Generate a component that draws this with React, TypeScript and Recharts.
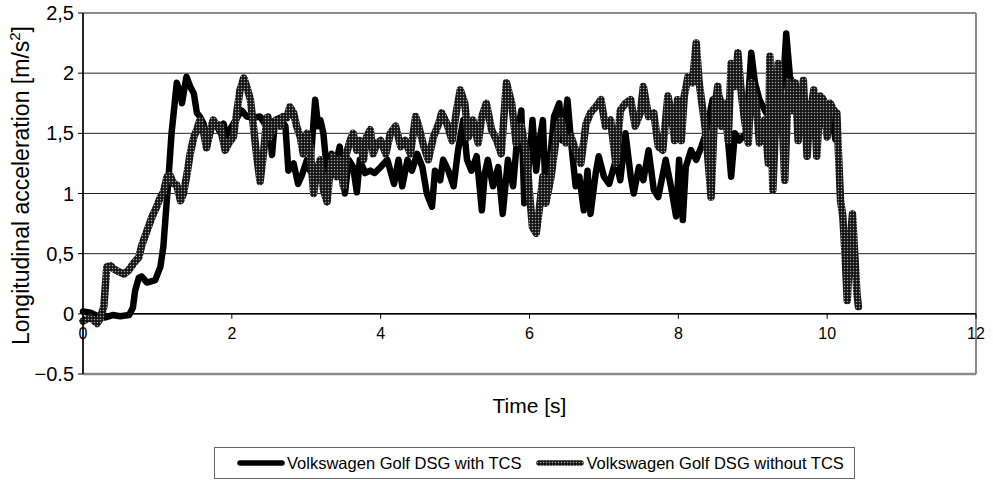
import React from 'react';
import {
  ComposedChart,
  Line,
  XAxis,
  YAxis,
  CartesianGrid,
  ReferenceLine,
  Scatter,
  Legend,
} from 'recharts';

const FONT = '"Liberation Sans", Arial, Helvetica, sans-serif';

const seriesNames = ['Volkswagen Golf DSG with TCS', 'Volkswagen Golf DSG without TCS'];
const xTicks = [0, 2, 4, 6, 8, 10, 12];
const yTicks = [-0.5, 0, 0.5, 1, 1.5, 2, 2.5];

// Volkswagen Golf DSG with TCS
const tWith = [
  0, 0.1, 0.2, 0.3, 0.4, 0.5, 0.62, 0.67, 0.7, 0.75, 0.79, 0.86, 0.97, 1.04, 1.08, 1.15, 1.19, 1.26, 1.31, 1.33,
  1.39, 1.44, 1.49, 1.53, 1.57, 1.62, 1.66, 1.71, 1.75, 1.8, 1.84, 1.89, 1.93, 2.0, 2.07, 2.13, 2.2, 2.29, 2.38, 2.45,
  2.49, 2.54, 2.58, 2.65, 2.72, 2.76, 2.83, 2.89, 2.94, 3.01, 3.05, 3.12, 3.16, 3.19, 3.23, 3.28, 3.34, 3.41, 3.45, 3.52,
  3.57, 3.63, 3.68, 3.72, 3.79, 3.86, 3.92, 4.0, 4.09, 4.18, 4.24, 4.29, 4.36, 4.42, 4.49, 4.56, 4.62, 4.69, 4.73, 4.8,
  4.84, 4.91, 4.98, 5.04, 5.11, 5.16, 5.22, 5.29, 5.36, 5.4, 5.44, 5.51, 5.58, 5.64, 5.71, 5.78, 5.84, 5.89, 5.93, 6.0,
  6.04, 6.09, 6.13, 6.18, 6.22, 6.27, 6.33, 6.4, 6.44, 6.51, 6.56, 6.62, 6.67, 6.73, 6.78, 6.82, 6.89, 6.93, 7.0, 7.07,
  7.16, 7.22, 7.29, 7.36, 7.4, 7.47, 7.53, 7.6, 7.67, 7.73, 7.83, 7.9, 7.97, 8.01, 8.06, 8.1, 8.17, 8.24, 8.31, 8.37,
  8.46, 8.55, 8.64, 8.71, 8.76, 8.82, 8.91, 8.98, 9.03, 9.09, 9.18, 9.27, 9.34, 9.41, 9.45, 9.5, 9.55, 9.59, 9.66, 9.73,
  9.82, 9.91, 10.0, 10.06, 10.11,
];
const aWith = [
  0.02, 0.01, -0.02, -0.03, -0.01, -0.02, -0.01, 0.05, 0.19, 0.3, 0.31, 0.26, 0.28, 0.39, 0.56, 1.14, 1.5, 1.92, 1.83, 1.75,
  1.97, 1.89, 1.83, 1.67, 1.64, 1.58, 1.38, 1.5, 1.61, 1.56, 1.51, 1.58, 1.47, 1.56, 1.63, 1.69, 1.64, 1.63, 1.64, 1.57,
  1.64, 1.32, 1.61, 1.63, 1.56, 1.19, 1.25, 1.08, 1.15, 1.28, 1.19, 1.78, 1.56, 1.61, 1.5, 1.17, 1.33, 1.28, 1.39, 1.0,
  1.28, 1.22, 1.01, 1.28, 1.17, 1.19, 1.17, 1.22, 1.28, 1.08, 1.28, 1.06, 1.28, 1.19, 1.33, 1.22, 1.0, 0.89, 1.19, 1.11,
  1.28, 1.19, 1.06, 1.36, 1.61, 1.28, 1.19, 1.31, 0.86, 1.17, 1.28, 1.06, 1.22, 0.83, 1.28, 1.06, 1.5, 1.69, 0.92, 1.28,
  1.61, 1.19, 1.42, 1.61, 0.94, 1.25, 1.64, 1.75, 1.44, 1.78, 1.42, 1.06, 1.14, 0.86, 1.19, 0.83, 1.17, 1.31, 1.14, 1.08,
  1.28, 1.11, 1.5, 1.14, 1.0, 1.22, 1.11, 1.36, 1.03, 0.97, 1.28, 1.06, 0.81, 1.28, 0.78, 1.22, 1.36, 1.28, 1.39, 1.5,
  1.78, 1.81, 1.64, 1.14, 1.5, 1.44, 1.5, 2.17, 1.92, 1.78, 1.67, 1.83, 1.78, 1.92, 2.33, 1.97, 1.89, 1.78, 1.83, 1.72,
  1.78, 1.69, 1.72, 1.67, 1.45,
];

// Volkswagen Golf DSG without TCS
const tWithout = [
  0, 0.1, 0.19, 0.23, 0.28, 0.32, 0.37, 0.41, 0.48, 0.55, 0.61, 0.68, 0.75, 0.79, 0.86, 0.93, 0.99, 1.04, 1.08, 1.13,
  1.17, 1.22, 1.26, 1.31, 1.35, 1.4, 1.44, 1.49, 1.53, 1.57, 1.62, 1.66, 1.71, 1.75, 1.8, 1.84, 1.91, 1.96, 2.02, 2.07,
  2.11, 2.16, 2.2, 2.25, 2.29, 2.34, 2.38, 2.43, 2.47, 2.51, 2.56, 2.6, 2.65, 2.69, 2.74, 2.78, 2.83, 2.87, 2.92, 2.96,
  3.01, 3.05, 3.1, 3.14, 3.19, 3.23, 3.28, 3.32, 3.36, 3.41, 3.45, 3.5, 3.54, 3.59, 3.63, 3.68, 3.72, 3.77, 3.81, 3.86,
  3.9, 3.95, 4.0, 4.07, 4.13, 4.2, 4.27, 4.33, 4.4, 4.47, 4.51, 4.58, 4.64, 4.71, 4.78, 4.82, 4.89, 4.96, 5.02, 5.07,
  5.13, 5.18, 5.24, 5.31, 5.36, 5.42, 5.49, 5.56, 5.62, 5.69, 5.76, 5.82, 5.89, 5.96, 6.0, 6.04, 6.09, 6.13, 6.18, 6.22,
  6.29, 6.36, 6.42, 6.49, 6.56, 6.62, 6.69, 6.76, 6.82, 6.89, 6.96, 7.02, 7.09, 7.16, 7.22, 7.29, 7.36, 7.42, 7.49, 7.53,
  7.6, 7.67, 7.73, 7.79, 7.86, 7.9, 7.95, 7.99, 8.04, 8.08, 8.13, 8.19, 8.24, 8.28, 8.33, 8.37, 8.44, 8.49, 8.53, 8.58,
  8.62, 8.67, 8.71, 8.76, 8.8, 8.85, 8.89, 8.94, 8.98, 9.05, 9.09, 9.16, 9.21, 9.23, 9.27, 9.32, 9.34, 9.39, 9.43, 9.48,
  9.52, 9.57, 9.61, 9.68, 9.73, 9.77, 9.82, 9.86, 9.91, 9.95, 10.0, 10.04, 10.09, 10.13, 10.15, 10.18, 10.21, 10.24, 10.27, 10.31,
  10.34, 10.37, 10.4, 10.42,
];
const aWithout = [
  -0.06, -0.03, -0.08, -0.04, 0.06, 0.39, 0.4, 0.375, 0.35, 0.33, 0.36, 0.42, 0.47, 0.57, 0.69, 0.81, 0.89, 0.97, 1.01, 1.14,
  1.15, 1.08, 1.07, 0.94, 1.0, 1.17, 1.33, 1.47, 1.53, 1.61, 1.51, 1.38, 1.53, 1.61, 1.56, 1.57, 1.36, 1.42, 1.47, 1.69,
  1.86, 1.96, 1.89, 1.78, 1.56, 1.28, 1.1, 1.36, 1.63, 1.47, 1.57, 1.61, 1.56, 1.64, 1.63, 1.72, 1.67, 1.56, 1.47, 1.33,
  1.5, 1.39, 1.0, 1.19, 1.28, 1.03, 0.93, 1.19, 1.31, 1.14, 1.28, 1.06, 1.33, 1.44, 1.5, 1.36, 1.44, 1.28, 1.47, 1.53,
  1.33, 1.42, 1.44, 1.33, 1.5, 1.56, 1.39, 1.44, 1.33, 1.64, 1.56, 1.39, 1.28, 1.47, 1.58, 1.67, 1.58, 1.44, 1.69, 1.86,
  1.75, 1.47, 1.61, 1.42, 1.64, 1.75, 1.53, 1.44, 1.33, 1.92, 1.75, 1.42, 1.56, 1.33, 1.0, 0.72, 0.67, 0.86, 1.14, 0.92,
  1.14, 1.47, 1.61, 1.42, 1.47, 1.36, 1.25, 1.58, 1.67, 1.72, 1.78, 1.56, 1.61, 1.25, 1.69, 1.75, 1.78, 1.56, 1.67, 1.89,
  1.64, 1.67, 1.39, 1.36, 1.81, 1.69, 1.44, 1.78, 1.44, 1.81, 1.97, 1.92, 2.25, 1.92, 1.69, 1.5, 0.97, 1.72, 1.89, 1.56,
  1.75, 1.44, 2.08, 1.89, 2.17, 1.81, 1.61, 1.42, 1.92, 1.72, 1.42, 1.61, 1.25, 2.14, 1.03, 1.78, 2.08, 1.69, 1.11, 1.92,
  1.69, 1.92, 1.44, 1.94, 1.31, 1.64, 1.86, 1.31, 1.81, 1.78, 1.47, 1.75, 1.69, 1.67, 1.36, 0.94, 0.81, 0.5, 0.11, 0.61,
  0.83, 0.5, 0.17, 0.06,
];

const withData = tWith.map((t, i) => ({ t, a: aWith[i] }));
const withoutData = tWithout.map((t, i) => ({ t, a: aWithout[i] }));
const xLabelPoints = xTicks.map((t) => ({ t, a: 0 }));

const formatY = (v: number) => (v < 0 ? '\u22120.5' : String(v).replace('.', ','));

const XTickOnZero = (props: any) => {
  const { cx, cy, payload } = props;
  if (cx == null || cy == null) return null;
  return (
    <g>
      <line x1={cx} y1={cy} x2={cx} y2={cy + 5} stroke="#000" strokeWidth={1} />
      <text x={cx} y={cy + 25} textAnchor="middle" fontSize={16} fontFamily={FONT} fill="#000">
        {payload.t}
      </text>
    </g>
  );
};

const YLabel = (props: any) => {
  const vb = props.viewBox || { x: 0, y: 13, width: 83, height: 361 };
  const cx = vb.x + 29;
  const cy = vb.y + vb.height / 2 - 8;
  return (
    <text
      x={cx}
      y={cy}
      transform={`rotate(-90 ${cx} ${cy})`}
      textAnchor="middle"
      fontSize={23}
      fontFamily={FONT}
      fill="#000"
    >
      Longitudinal acceleration [m/s
      <tspan dy={-9} fontSize={15}>
        2
      </tspan>
      <tspan dy={9}>]</tspan>
    </text>
  );
};

const LegendBox = () => (
  <div
    style={{
      width: 641,
      height: 32,
      border: '1px solid #666',
      boxSizing: 'border-box',
      display: 'flex',
      alignItems: 'center',
      fontFamily: FONT,
      fontSize: 16.5,
      color: '#000',
      paddingLeft: 22,
      whiteSpace: 'nowrap',
    }}
  >
    <svg width={48} height={10} style={{ display: 'block' }}>
      <line x1={3} y1={5} x2={45} y2={5} stroke="#000" strokeWidth={5.5} strokeLinecap="round" />
    </svg>
    <span style={{ marginLeft: 2 }}>{seriesNames[0]}</span>
    <svg width={48} height={10} style={{ display: 'block', marginLeft: 15 }}>
      <defs>
        <pattern id="dotsLegend" patternUnits="userSpaceOnUse" width={3} height={3}>
          <rect width={3} height={3} fill="#151515" />
          <circle cx={1.5} cy={1.5} r={0.75} fill="#a8a8a8" />
        </pattern>
      </defs>
      <line x1={3} y1={5} x2={45} y2={5} stroke="url(#dotsLegend)" strokeWidth={5.5} strokeLinecap="round" />
    </svg>
    <span style={{ marginLeft: 2 }}>{seriesNames[1]}</span>
  </div>
);

export default function App() {
  return (
    <div style={{ position: 'absolute', left: 0, top: 0, width: 993, height: 480, background: '#fff' }}>
      <ComposedChart width={993} height={480} margin={{ top: 13, right: 17, left: 0, bottom: 66 }}>
        <defs>
          <pattern id="dots" patternUnits="userSpaceOnUse" width={3} height={3}>
            <rect width={3} height={3} fill="#151515" />
            <circle cx={1.5} cy={1.5} r={0.75} fill="#a8a8a8" />
          </pattern>
        </defs>
        <CartesianGrid stroke="#222" strokeWidth={1} />
        <XAxis
          type="number"
          dataKey="t"
          domain={[0, 12]}
          ticks={xTicks}
          height={40}
          tick={false}
          tickLine={false}
          axisLine={false}
          label={{ value: 'Time [s]', position: 'insideTop', offset: 24, fontSize: 21, fill: '#000', fontFamily: FONT }}
        />
        <YAxis
          type="number"
          dataKey="a"
          domain={[-0.5, 2.5]}
          ticks={yTicks}
          width={83}
          tickFormatter={formatY}
          tickSize={5}
          tickMargin={4}
          tick={{ fill: '#000', fontSize: 20, fontFamily: FONT }}
          tickLine={{ stroke: '#000' }}
          axisLine={{ stroke: '#000', strokeWidth: 1.5 }}
          label={YLabel}
        />
        <ReferenceLine y={2.5} stroke="#8a8a8a" strokeWidth={1.5} />
        <ReferenceLine y={-0.5} stroke="#8a8a8a" strokeWidth={2.5} />
        <ReferenceLine x={12} stroke="#8a8a8a" strokeWidth={1.5} />
        <ReferenceLine y={0} stroke="#000" strokeWidth={1.5} />
        <Line
          data={withData}
          dataKey="a"
          type="linear"
          stroke="#000"
          strokeWidth={6.5}
          strokeLinejoin="round"
          strokeLinecap="round"
          dot={false}
          activeDot={false}
          isAnimationActive={false}
          name={seriesNames[0]}
        />
        <Line
          data={withoutData}
          dataKey="a"
          type="linear"
          stroke="url(#dots)"
          strokeWidth={7.5}
          strokeLinejoin="round"
          strokeLinecap="round"
          dot={false}
          activeDot={false}
          isAnimationActive={false}
          name={seriesNames[1]}
        />
        <Scatter data={xLabelPoints} dataKey="a" shape={XTickOnZero} isAnimationActive={false} legendType="none" />
        <Legend
          verticalAlign="middle"
          align="center"
          layout="horizontal"
          wrapperStyle={{ left: 214, top: 447, width: 641, height: 32 }}
          content={LegendBox}
        />
      </ComposedChart>
    </div>
  );
}
